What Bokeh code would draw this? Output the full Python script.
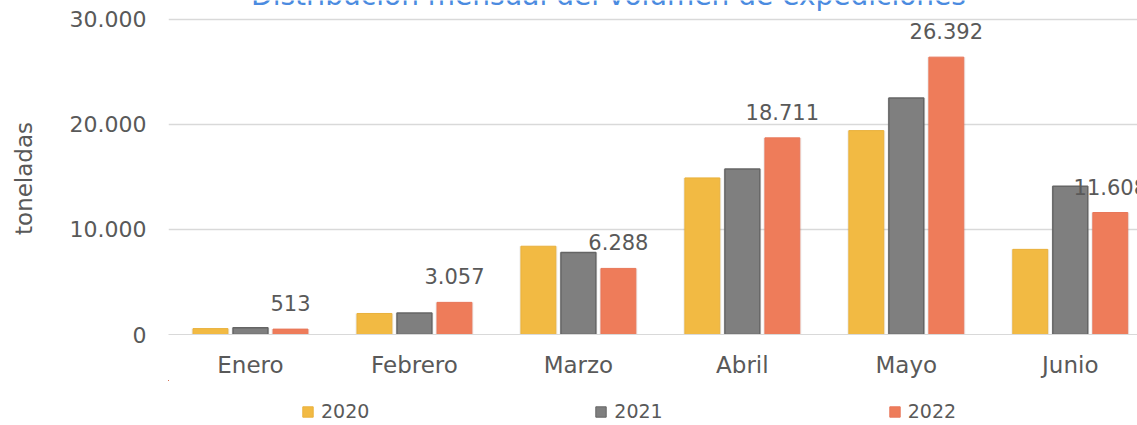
from bokeh.plotting import figure
from bokeh.layouts import column
from bokeh.models import (ColumnDataSource, Range1d, FixedTicker, Legend, LegendItem,
                          LabelSet, Label)
from bokeh.embed import file_html
from bokeh.resources import INLINE
from bokeh.core.properties import value

months = ["Enero", "Febrero", "Marzo", "Abril", "Mayo", "Junio"]
v2020 = [560, 2000, 8400, 14900, 19400, 8100]
v2021 = [650, 2050, 7800, 15750, 22500, 14100]
v2022 = [513, 3057, 6288, 18711, 26392, 11608]
labels2022 = ["513", "3.057", "6.288", "18.711", "26.392", "11.608"]
series_names = ["2020", "2021", "2022"]
title_text = "Distribución mensual del volumen de expediciones"

FONT = "DejaVu Sans"
TXT = "#595959"
COLORS = ["#F2BA43", "#7F7F7F", "#EE7C5A"]
EDGES = ["#E9B13C", "#656565", "#E8775A"]

x = [i + 0.5 for i in range(len(months))]
step = 0.244
src = ColumnDataSource(dict(
    x20=[c - step for c in x], x21=x, x22=[c + step for c in x],
    v20=v2020, v21=v2021, v22=v2022, lab=labels2022,
))
cols = [("x20", "v20"), ("x21", "v21"), ("x22", "v22")]

# frame reaches the top of the canvas; 30.000 line sits 19px below it
FRAME_H = 339
y_end = 30000 * FRAME_H / (FRAME_H - 19)

p = figure(width=1137, height=380, output_backend="svg", toolbar_location=None,
           x_range=Range1d(0, 5.91), y_range=Range1d(0, y_end),
           min_border_top=0, min_border_left=168, min_border_right=0,
           min_border_bottom=41)
p.outline_line_color = None
p.background_fill_color = "white"
p.border_fill_color = "white"

w = 0.213
for xs, vs in cols:
    p.vbar(x=xs, top=vs, width=w + 0.02, source=src, fill_color="#000000",
           fill_alpha=0.06, line_color=None)
for (xs, vs), fc, ec, lw in zip(cols, COLORS, EDGES, [1, 1.5, 1]):
    p.vbar(x=xs, top=vs, width=w, source=src, fill_color=fc, line_color=ec, line_width=lw)

p.add_layout(LabelSet(x="x22", y="v22", text="lab", source=src, text_align="center",
                      text_baseline="alphabetic", y_offset=18, text_font=value(FONT),
                      text_font_size=value("21px"), text_color=value(TXT)))

p.xaxis.ticker = FixedTicker(ticks=x)
p.xaxis.major_label_overrides = {c: m for c, m in zip(x, months)}
p.xaxis.axis_line_color = "#D9D9D9"
p.xaxis.major_tick_line_color = None
p.xaxis.minor_tick_line_color = None
p.xaxis.major_label_standoff = 11
p.xaxis.major_label_text_font = FONT
p.xaxis.major_label_text_font_size = "23px"
p.xaxis.major_label_text_color = TXT
p.xgrid.grid_line_color = None

p.yaxis.ticker = FixedTicker(ticks=[0, 10000, 20000, 30000])
p.yaxis.major_label_overrides = {0: "0", 10000: "10.000", 20000: "20.000", 30000: "30.000"}
p.yaxis.axis_line_color = None
p.yaxis.major_tick_line_color = None
p.yaxis.minor_tick_line_color = None
p.yaxis.major_label_standoff = 16
p.yaxis.major_label_text_font = FONT
p.yaxis.major_label_text_font_size = "22px"
p.yaxis.major_label_text_color = TXT
p.yaxis.axis_label = "toneladas\u00a0\u00a0\u00a0"
p.yaxis.axis_label_text_font = FONT
p.yaxis.axis_label_text_font_size = "23px"
p.yaxis.axis_label_text_font_style = "normal"
p.yaxis.axis_label_text_color = TXT
p.yaxis.axis_label_standoff = 30
p.ygrid.grid_line_color = "#D9D9D9"
p.ygrid.grid_line_width = 1.5

# title, cut off at the top edge as in the reference
p.add_layout(Label(x=440, y=FRAME_H, x_units="screen", y_units="screen",
                   text=title_text, text_align="center", text_baseline="alphabetic",
                   text_font=FONT, text_font_size="28px", text_color="#4B8BE0"))

# legend strip below the chart (its bars lie far outside its visible ranges)
lg = figure(width=1137, height=45, output_backend="svg", toolbar_location=None,
            x_range=Range1d(500, 501), y_range=Range1d(-500000, -499999),
            x_axis_type=None, y_axis_type=None, min_border=0)
lg.outline_line_color = None
lg.grid.visible = False
items = []
for name, (xs, vs), fc, ec in zip(series_names, cols, COLORS, EDGES):
    r = lg.vbar(x=xs, top=vs, width=w, source=src, fill_color=fc, line_color=ec)
    items.append(LegendItem(label=name, renderers=[r]))
legend = Legend(items=items, orientation="horizontal", location=(133, 3),
                glyph_width=13, glyph_height=13, label_standoff=7, spacing=225,
                padding=0, margin=0, border_line_color=None, background_fill_alpha=0,
                label_text_font=FONT, label_text_font_size="19px", label_text_color=TXT)
lg.add_layout(legend)

layout = column(p, lg, spacing=0)
open("out.html", "w").write(file_html(layout, INLINE))
